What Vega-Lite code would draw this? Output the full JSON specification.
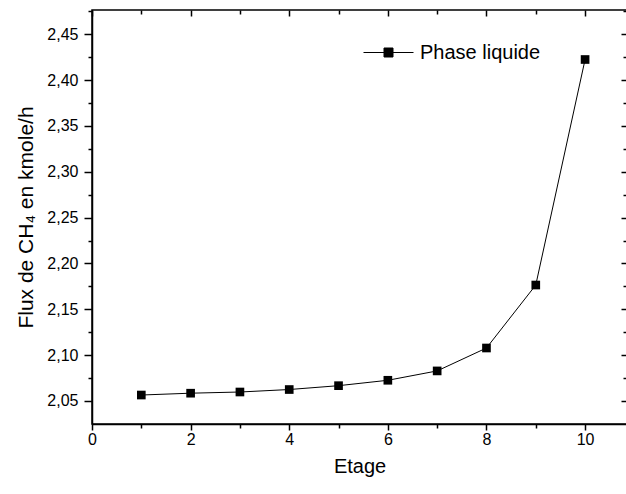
{
  "$schema": "https://vega.github.io/schema/vega-lite/v6.json",
  "autosize": {"type": "none"},
  "padding": {"left": 92, "top": 10, "right": 0, "bottom": 70},
  "width": 535,
  "height": 414,
  "background": "white",
  "config": {
    "view": {"stroke": "black", "strokeWidth": 1.5},
    "font": "Liberation Sans",
    "axis": {"domainColor": "black", "tickColor": "black", "labelColor": "black", "titleColor": "black", "grid": false, "domainWidth": 1.5, "tickWidth": 1.5, "labelFont": "Liberation Sans", "titleFont": "Liberation Sans", "titleFontWeight": "normal"}
  },
  "data": {
    "values": [
      {"etage": 1, "flux": 2.0565, "serie": "Phase liquide"},
      {"etage": 2, "flux": 2.0585, "serie": "Phase liquide"},
      {"etage": 3, "flux": 2.0598, "serie": "Phase liquide"},
      {"etage": 4, "flux": 2.0625, "serie": "Phase liquide"},
      {"etage": 5, "flux": 2.0667, "serie": "Phase liquide"},
      {"etage": 6, "flux": 2.0726, "serie": "Phase liquide"},
      {"etage": 7, "flux": 2.0828, "serie": "Phase liquide"},
      {"etage": 8, "flux": 2.1078, "serie": "Phase liquide"},
      {"etage": 9, "flux": 2.1765, "serie": "Phase liquide"},
      {"etage": 10, "flux": 2.4225, "serie": "Phase liquide"}
    ]
  },
  "resolve": {"axis": {"x": "independent", "y": "independent"}},
  "layer": [
    {
      "mark": {"type": "line", "color": "black", "strokeWidth": 1, "point": {"shape": "square", "size": 75, "filled": true, "color": "black", "opacity": 1}},
      "encoding": {
        "x": {"field": "etage", "type": "quantitative", "scale": {"domain": [0, 10.85], "nice": false, "zero": false},
          "axis": {"orient": "bottom", "values": [0, 2, 4, 6, 8, 10], "format": "d", "tickSize": 6, "labelPadding": 1, "labelFontSize": 16, "title": "Etage", "titleFontSize": 20, "titlePadding": 9, "labelFlush": false, "labelOverlap": false}},
        "y": {"field": "flux", "type": "quantitative", "scale": {"domain": [2.0249, 2.4765], "nice": false, "zero": false},
          "axis": {"orient": "left", "values": [2.05, 2.1, 2.15, 2.2, 2.25, 2.3, 2.35, 2.4, 2.45], "labelExpr": "replace(format(datum.value, '.2f'), '.', ',')", "tickSize": 8, "labelPadding": 6, "labelFontSize": 16, "title": "Flux de CH₄ en kmole/h", "titleFontSize": 21, "titlePadding": 10, "labelFlush": false, "labelOverlap": false}},
        "color": {"field": "serie", "type": "nominal", "scale": {"range": ["black"]},
          "legend": {"title": null, "orient": "none", "legendX": 271, "legendY": 17, "padding": 0, "symbolType": "M-1,0H1M-0.18,-0.18H0.18V0.18H-0.18Z", "symbolSize": 2500, "symbolStrokeWidth": 1, "symbolFillColor": "black", "symbolStrokeColor": "black", "labelFontSize": 20, "labelFont": "Liberation Sans", "labelColor": "black", "labelOffset": 6}}
      }
    },
    {
      "mark": {"type": "point", "opacity": 0},
      "encoding": {
        "x": {"field": "etage", "type": "quantitative", "axis": {"orient": "bottom", "values": [1, 3, 5, 7, 9], "tickSize": 4, "labels": false, "domain": false, "title": null}},
        "y": {"field": "flux", "type": "quantitative", "axis": {"orient": "left", "values": [2.075, 2.125, 2.175, 2.225, 2.275, 2.325, 2.375, 2.425, 2.475], "tickSize": 4, "labels": false, "domain": false, "title": null}}
      }
    },
    {
      "mark": {"type": "point", "opacity": 0},
      "encoding": {
        "x": {"field": "etage", "type": "quantitative", "axis": {"orient": "top", "values": [0, 2, 4, 6, 8, 10], "tickSize": -6, "labels": false, "domain": false, "title": null}},
        "y": {"field": "flux", "type": "quantitative", "axis": {"orient": "right", "values": [2.05, 2.1, 2.15, 2.2, 2.25, 2.3, 2.35, 2.4, 2.45], "tickSize": -6, "labels": false, "domain": false, "title": null}}
      }
    },
    {
      "mark": {"type": "point", "opacity": 0},
      "encoding": {
        "x": {"field": "etage", "type": "quantitative", "axis": {"orient": "top", "values": [1, 3, 5, 7, 9], "tickSize": -4, "labels": false, "domain": false, "title": null}},
        "y": {"field": "flux", "type": "quantitative", "axis": {"orient": "right", "values": [2.075, 2.125, 2.175, 2.225, 2.275, 2.325, 2.375, 2.425, 2.475], "tickSize": -4, "labels": false, "domain": false, "title": null}}
      }
    }
  ]
}
